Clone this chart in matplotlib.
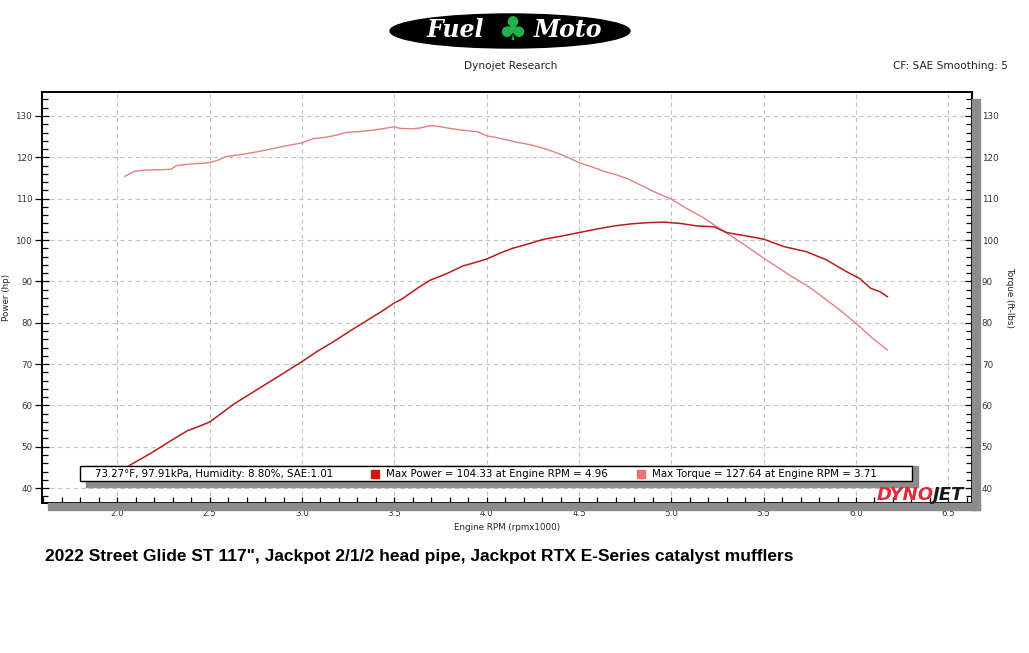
import matplotlib.pyplot as plt
from matplotlib.patches import Rectangle, Ellipse
from matplotlib.ticker import MultipleLocator

# --- data ---
rpm_power = [2.04, 2.07, 2.18, 2.28, 2.38, 2.44, 2.50, 2.57, 2.63, 2.72, 2.81, 2.90,
             3.00, 3.08, 3.17, 3.26, 3.35, 3.43, 3.50, 3.54, 3.62, 3.69, 3.78, 3.87,
             3.94, 4.00, 4.07, 4.14, 4.22, 4.31, 4.40, 4.50, 4.59, 4.69, 4.78, 4.87,
             4.96, 5.05, 5.14, 5.23, 5.30, 5.43, 5.50, 5.61, 5.73, 5.84, 5.95, 6.02,
             6.08, 6.13, 6.17]
power_hp = [44.6, 45.6, 48.4, 51.2, 53.9, 54.9, 56.0, 58.3, 60.3, 62.8, 65.3, 67.8,
            70.6, 73.0, 75.4, 78.0, 80.5, 82.7, 84.8, 85.7, 88.2, 90.2, 91.8, 93.7,
            94.6, 95.4, 96.8, 98.0, 99.0, 100.2, 100.9, 101.8, 102.6, 103.4, 103.9, 104.2,
            104.33, 104.0, 103.4, 103.2, 101.8, 100.8, 100.2, 98.4, 97.2, 95.2, 92.3, 90.7,
            88.3, 87.5, 86.3]

rpm_torque = [2.04, 2.09, 2.15, 2.22, 2.29, 2.32, 2.40, 2.50, 2.55, 2.59, 2.66, 2.74,
              2.81, 2.87, 2.94, 3.00, 3.06, 3.12, 3.17, 3.24, 3.30, 3.35, 3.42, 3.50,
              3.53, 3.60, 3.64, 3.69, 3.71, 3.75, 3.80, 3.86, 3.95, 4.00, 4.05, 4.11,
              4.17, 4.24, 4.30, 4.36, 4.43, 4.50, 4.57, 4.63, 4.70, 4.76, 4.81, 4.87,
              4.93, 5.00, 5.08, 5.17, 5.25, 5.33, 5.42, 5.50, 5.57, 5.64, 5.73, 5.79,
              5.84, 5.92, 6.00, 6.05, 6.09, 6.13, 6.17]
torque_ftlb = [115.4, 116.6, 116.9, 117.0, 117.1, 118.0, 118.4, 118.7, 119.4, 120.2, 120.6, 121.2,
               121.8, 122.4, 123.0, 123.5, 124.5, 124.8, 125.2, 126.0, 126.2, 126.4, 126.8, 127.4,
               127.0, 126.9, 127.1, 127.6, 127.64, 127.4, 127.0, 126.6, 126.2, 125.2, 124.8, 124.2,
               123.6, 123.0, 122.3, 121.4, 120.2, 118.7, 117.7, 116.7, 115.8, 114.9, 113.8, 112.5,
               111.2, 109.9, 107.7, 105.5, 103.1, 100.8, 98.1, 95.6, 93.6, 91.5, 89.1, 87.2,
               85.5, 82.8, 79.85, 77.8, 76.2, 74.8, 73.4]

weather_text = "73.27°F, 97.91kPa, Humidity: 8.80%, SAE:1.01"
power_text = "Max Power = 104.33 at Engine RPM = 4.96"
torque_text = "Max Torque = 127.64 at Engine RPM = 3.71"
caption = '2022 Street Glide ST 117", Jackpot 2/1/2 head pipe, Jackpot RTX E-Series catalyst mufflers'

W, H = 1029, 653
POWER_C = "#b81c1c"
TORQUE_C = "#e58080"
SHADOW = "#8c8c8c"


def fx(x):
    return x / W


def fy(y):
    return 1 - y / H


fig = plt.figure(figsize=(W / 100, H / 100), dpi=100)
fig.patch.set_facecolor("white")

# plot frame in pixel coords
L, R, T, B = 42, 972, 92, 503
ax = fig.add_axes([fx(L), fy(B), fx(R - L), (B - T) / H])

# drop shadows of the frame
fig.patches.append(Rectangle((fx(R), fy(B + 7)), fx(8), (B + 7 - 99) / H,
                             transform=fig.transFigure, color=SHADOW, zorder=0))
fig.patches.append(Rectangle((fx(48), fy(B + 7)), fx(R + 8 - 48), 7 / H,
                             transform=fig.transFigure, color=SHADOW, zorder=0))

ax.plot(rpm_torque, torque_ftlb, color=TORQUE_C, lw=1.0, zorder=3)
ax.plot(rpm_power, power_hp, color=POWER_C, lw=1.1, zorder=3)

ax.set_xlim(1.592, 6.628)
ax.set_ylim(36.4, 135.8)
ax.xaxis.set_major_locator(MultipleLocator(0.5))
ax.xaxis.set_minor_locator(MultipleLocator(0.1))
ax.yaxis.set_major_locator(MultipleLocator(10))
ax.yaxis.set_minor_locator(MultipleLocator(2))
ax.xaxis.set_major_formatter(lambda v, p: f"{v:.1f}")
ax.grid(True, which="major", color="#c4c4c4", lw=0.8, ls=(0, (4, 3)))
for s in ax.spines.values():
    s.set_linewidth(1.2)

ax.tick_params(axis="y", which="major", direction="inout", length=10, width=0.9,
               labelsize=6.3, pad=2, colors="black", labelcolor="#333333")
ax.tick_params(axis="y", which="minor", direction="in", length=4, width=0.9)
ax.tick_params(axis="x", which="both", direction="in", length=4.5, width=0.9,
               labelsize=6.3, pad=4, labelcolor="#333333")
ax.set_xlabel("Engine RPM (rpmx1000)", fontsize=6.3, labelpad=4, color="#222222")
ax.set_ylabel("Power (hp)", fontsize=6.3, labelpad=3, color="#222222")

ax2 = ax.twinx()
ax2.set_ylim(ax.get_ylim())
ax2.yaxis.set_major_locator(MultipleLocator(10))
ax2.yaxis.set_minor_locator(MultipleLocator(2))
ax2.tick_params(axis="y", which="major", direction="inout", length=10, width=0.9,
                labelsize=6.3, pad=2, labelcolor="#333333")
ax2.tick_params(axis="y", which="minor", direction="in", length=4, width=0.9)
ax2.set_ylabel("Torque (ft-lbs)", fontsize=6.3, rotation=-90, labelpad=11, color="#222222")
for s in ax2.spines.values():
    s.set_linewidth(1.2)

# legend strip with shadow
fig.patches.append(Rectangle((fx(86), fy(487)), fx(918 - 86), 21 / H,
                             transform=fig.transFigure, color=SHADOW, zorder=4))
fig.patches.append(Rectangle((fx(80), fy(481)), fx(912 - 80), 15 / H,
                             transform=fig.transFigure, facecolor="white",
                             edgecolor="black", lw=1.0, zorder=5))
ly = fy(474)
fig.text(fx(95), ly, weather_text, fontsize=7.4, va="center", zorder=6)
fig.patches.append(Rectangle((fx(371), fy(478)), fx(8), 8 / H, transform=fig.transFigure,
                             color="#d81010", zorder=6))
fig.text(fx(386), ly, power_text, fontsize=7.4, va="center", zorder=6)
fig.patches.append(Rectangle((fx(637), fy(478)), fx(8), 8 / H, transform=fig.transFigure,
                             color="#f07070", zorder=6))
fig.text(fx(652), ly, torque_text, fontsize=7.4, va="center", zorder=6)

# Dynojet mark in the plot corner
fig.text(fx(934), fy(495), "DYNO", fontsize=13, fontweight="heavy", style="italic",
         color="#e02a3a", ha="right", va="center", zorder=6)
fig.text(fx(933), fy(495), "JET", fontsize=13, fontweight="heavy", style="italic",
         color="#1a1a1a", ha="left", va="center", zorder=6)

# header
fig.patches.append(Ellipse((fx(510), fy(31)), fx(240), 34 / H, transform=fig.transFigure,
                           color="black", zorder=1))
fig.text(fx(455), fy(30), "Fuel", fontsize=17, fontweight="bold", style="italic",
         family="DejaVu Serif", color="white", ha="center", va="center", zorder=2)
fig.text(fx(512), fy(31), "♣", fontsize=24, color="#22b14c", ha="center", va="center", zorder=2)
fig.text(fx(568), fy(30), "Moto", fontsize=17, fontweight="bold", style="italic",
         family="DejaVu Serif", color="white", ha="center", va="center", zorder=2)
fig.text(fx(511), fy(66), "Dynojet Research", fontsize=7.6, ha="center", va="center",
         color="#222222")
fig.text(fx(1008), fy(66), "CF: SAE Smoothing: 5", fontsize=7.6, ha="right", va="center",
         color="#222222")

fig.text(fx(45), fy(556), caption, fontsize=12.5, fontweight="bold",
         family="Liberation Sans", ha="left", va="center")

fig.savefig("out.png", dpi=100)
